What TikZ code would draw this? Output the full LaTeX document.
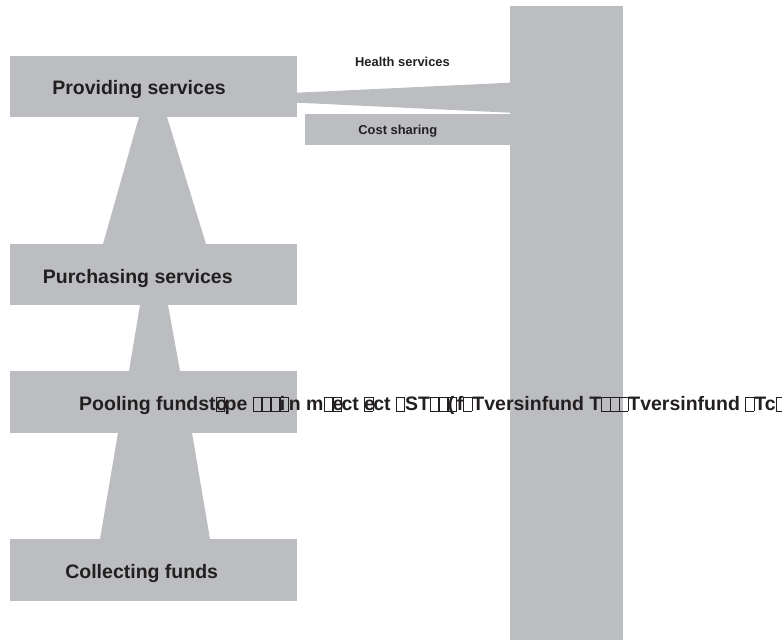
\documentclass[tikz,border=0pt]{standalone}
\usepackage{fontspec}
\setmainfont{Liberation Sans}
\definecolor{gr}{HTML}{BCBDC0}
\definecolor{tx}{HTML}{231F20}
\newcommand\gbx{{\fboxsep=0pt\fboxrule=0.6pt\fbox{\vphantom{H}\hspace{0.40em}}}}
\newcommand\gov[1]{\rlap{#1}{\fboxsep=0pt\fboxrule=0.6pt\fbox{\vphantom{H}\hspace{0.40em}}}}
\begin{document}
\begin{tikzpicture}[x=1pt,y=-1pt,
  blk/.style={fill=gr, draw=none, inner sep=0pt, outer sep=0pt, anchor=north west},
  lbl/.style={text=tx, font=\bfseries\fontsize{19.5}{22}\selectfont, inner sep=0pt},
  sml/.style={text=tx, font=\bfseries\fontsize{12.9}{15}\selectfont, inner sep=0pt},
  lnk/.style={fill=gr, draw=none}]
\useasboundingbox (0,0) rectangle (782,642);
% boxes
\node[blk, minimum width=287pt, minimum height=61pt] (prov) at (10,56) {};
\node[blk, minimum width=287pt, minimum height=61pt] (purch) at (10,244) {};
\node[blk, minimum width=287pt, minimum height=62pt] (pool) at (10,371) {};
\node[blk, minimum width=287pt, minimum height=62pt] (coll) at (10,539) {};
\node[blk, minimum width=113pt, minimum height=634pt] (bar) at (510,6) {};
\node[blk, minimum width=205pt, minimum height=31pt] (cost) at (305,114) {};
% connecting wedges
\fill[lnk] (139,117) -- (167,117) -- (206,244) -- (103,244) -- cycle;
\fill[lnk] (140,305) -- (168,305) -- (180,371) -- (129,371) -- cycle;
\fill[lnk] (118,433) -- (192,433) -- (210,539) -- (100,539) -- cycle;
\fill[lnk] (297,92.7) -- (510,82.7) -- (510,112.7) -- (297,102.7) -- cycle;
% labels
\node[lbl, anchor=base] (tprov) at (139,95) {Providing services};
\node[lbl, anchor=base] (tpurch) at (137.8,283.3) {Purchasing services};
\node[lbl, anchor=base] (tcoll) at (141.7,578.3) {Collecting funds};
\node[sml, anchor=base] (thealth) at (402.5,66.7) {Health services};
\node[sml, anchor=base] (tcost) at (397.8,134) {Cost sharing};
\node[lbl, anchor=base west] (tpool) at (79,410.7) {Pooling fundst\gov{o}pe \gbx\gbx\gbx\gov{i}n m\gbx\gov{e}ct \gov{e}ct \gbx ST\gbx\gbx\gov{(}f\gbx Tversinfund T\gbx\gbx\gbx Tversinfund \gbx Tc\gbx};
\end{tikzpicture}
\end{document}
